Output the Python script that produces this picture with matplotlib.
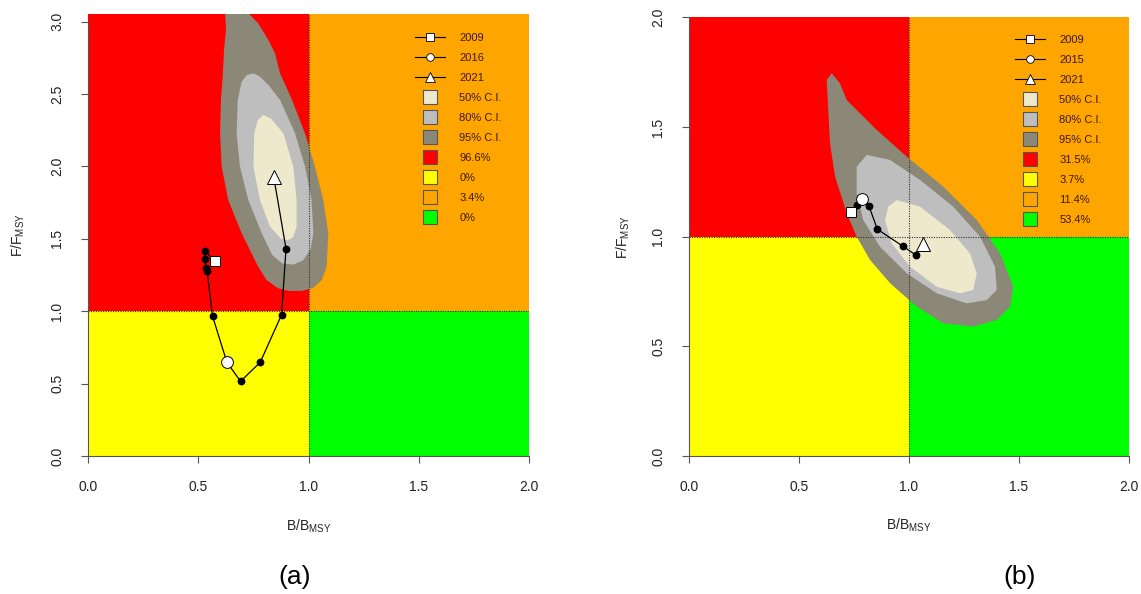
import matplotlib
matplotlib.use('Agg')
import matplotlib.pyplot as plt
from matplotlib.lines import Line2D

plt.rcParams['font.family'] = ['Liberation Sans', 'DejaVu Sans']
plt.rcParams['mathtext.fontset'] = 'custom'
plt.rcParams['mathtext.rm'] = 'Liberation Sans'
plt.rcParams['mathtext.it'] = 'Liberation Sans:italic'

# quadrant colours (red, yellow, orange, green) and CI colours
col_red, col_yellow, col_orange, col_green = '#FF0000', '#FFFF00', '#FFA500', '#00FF00'
col50, col80, col95 = '#EEE8CD', '#BEBEBE', '#8B8878'

# ---- panel (a) ----
bb_a = [0.575, 0.53, 0.53, 0.535, 0.54, 0.565, 0.63, 0.692, 0.781, 0.878, 0.898, 0.842]
ff_a = [1.345, 1.418, 1.358, 1.296, 1.28, 0.965, 0.647, 0.516, 0.647, 0.976, 1.432, 1.93]
years_a = ['2009', '2016', '2021']
mid_a = 6
pct_a = ['96.6%', '0%', '3.4%', '0%']

ci95_a_x = [0.63, 0.72, 0.735, 0.772, 0.818, 0.848, 0.871, 0.925, 0.984, 1.029, 1.067, 1.09,
            1.082, 1.06, 1.02, 0.97, 0.91, 0.86, 0.81, 0.772, 0.697, 0.636, 0.606, 0.599,
            0.603, 0.611, 0.617, 0.626, 0.62]
ci95_a_y = [3.12, 3.12, 3.046, 2.988, 2.873, 2.781, 2.643, 2.46, 2.229, 2.0, 1.768, 1.538,
            1.307, 1.215, 1.16, 1.14, 1.14, 1.16, 1.215, 1.307, 1.538, 1.768, 2.0, 2.229,
            2.459, 2.62, 2.804, 2.942, 3.12]
ci80_a_x = [0.75, 0.78, 0.82, 0.871, 0.939, 0.984, 1.014, 1.022, 1.01, 0.975, 0.93, 0.88,
            0.835, 0.788, 0.727, 0.689, 0.674, 0.679, 0.697, 0.72]
ci80_a_y = [2.643, 2.62, 2.56, 2.459, 2.229, 2.0, 1.768, 1.538, 1.43, 1.35, 1.322, 1.33,
            1.39, 1.538, 1.768, 2.0, 2.229, 2.459, 2.585, 2.631]
ci50_a_x = [0.795, 0.83, 0.886, 0.931, 0.946, 0.946, 0.93, 0.905, 0.875, 0.825, 0.78, 0.75,
            0.754, 0.77]
ci50_a_y = [2.355, 2.33, 2.229, 2.0, 1.768, 1.584, 1.51, 1.49, 1.50, 1.584, 1.768, 2.0,
            2.229, 2.32]

# ---- panel (b) ----
bb_b = [0.736, 0.765, 0.788, 0.818, 0.856, 0.973, 1.033, 1.065]
ff_b = [1.113, 1.143, 1.173, 1.14, 1.034, 0.956, 0.915, 0.967]
years_b = ['2009', '2015', '2021']
mid_b = 2
pct_b = ['31.5%', '3.7%', '11.4%', '53.4%']

ci95_b_x = [0.649, 0.686, 0.717, 0.777, 0.853, 0.99, 1.156, 1.308, 1.414, 1.474, 1.459,
            1.399, 1.292, 1.156, 1.035, 0.914, 0.823, 0.762, 0.717, 0.664, 0.641, 0.633,
            0.626]
ci95_b_y = [1.745, 1.699, 1.623, 1.563, 1.487, 1.365, 1.228, 1.076, 0.924, 0.772, 0.681,
            0.62, 0.59, 0.605, 0.681, 0.788, 0.894, 1.0, 1.107, 1.274, 1.426, 1.578,
            1.715]
ci80_b_x = [0.808, 0.914, 1.05, 1.201, 1.323, 1.391, 1.399, 1.353, 1.262, 1.126, 0.99,
            0.868, 0.792, 0.762, 0.762]
ci80_b_y = [1.373, 1.35, 1.259, 1.137, 1.0, 0.863, 0.757, 0.711, 0.696, 0.742, 0.833,
            0.954, 1.076, 1.198, 1.319]
ci50_b_x = [0.944, 1.05, 1.186, 1.277, 1.308, 1.292, 1.232, 1.126, 1.005, 0.921, 0.891,
            0.906]
ci50_b_y = [1.167, 1.137, 1.031, 0.924, 0.833, 0.757, 0.742, 0.772, 0.863, 0.97, 1.076,
            1.137]


def kobe(ax, ytop, ymax_tick, cis, bb, ff, mid, years, pct, leg_anchor, ylab_x):
    # quadrants
    ax.fill_between([0, 1], 1, ytop, color=col_red, lw=0, zorder=0)
    ax.fill_between([0, 1], 0, 1, color=col_yellow, lw=0, zorder=0)
    ax.fill_between([1, 2], 1, ytop, color=col_orange, lw=0, zorder=0)
    ax.fill_between([1, 2], 0, 1, color=col_green, lw=0, zorder=0)
    # confidence regions
    for (cx, cy), c in zip(cis, [col95, col80, col50]):
        ax.fill(cx, cy, color=c, lw=0, zorder=1)
    ax.axvline(1, color='#333333', lw=0.8, ls=(0, (1, 1.2)), zorder=2)
    ax.axhline(1, color='#333333', lw=0.8, ls=(0, (1, 1.2)), zorder=2)
    # trajectory
    ax.plot(bb, ff, color='black', lw=0.9, zorder=3)
    others = [i for i in range(len(bb)) if i not in (0, mid, len(bb) - 1)]
    ax.plot([bb[i] for i in others], [ff[i] for i in others], 'o', ms=4.6,
            color='black', zorder=4)
    ax.plot(bb[0], ff[0], 's', ms=7.5, mfc='white', mec='black', mew=0.7, zorder=5)
    ax.plot(bb[mid], ff[mid], 'o', ms=8.5, mfc='white', mec='black', mew=0.7, zorder=5)
    ax.plot(bb[-1], ff[-1], '^', ms=10, mfc='white', mec='black', mew=0.7, zorder=5)

    ax.set_xlim(0, 2)
    ax.set_ylim(0, ytop)
    ax.set_xticks([0, 0.5, 1, 1.5, 2])
    ax.set_xticklabels(['0.0', '0.5', '1.0', '1.5', '2.0'])
    yt = [v * 0.5 for v in range(int(ymax_tick * 2) + 1)]
    ax.set_yticks(yt)
    ax.set_yticklabels(['%.1f' % v for v in yt])
    for s in ['top', 'right']:
        ax.spines[s].set_visible(False)
    ax.spines['left'].set_bounds(0, ymax_tick)
    ax.spines['bottom'].set_bounds(0, 2)
    for s in ['left', 'bottom']:
        ax.spines[s].set_color('#555555')
        ax.spines[s].set_linewidth(0.8)
    ax.tick_params(direction='out', length=5, width=0.8, color='#555555',
                   labelsize=10, labelcolor='#222222', pad=12)
    ax.tick_params(axis='y', labelrotation=90)
    for lab in ax.get_yticklabels():
        lab.set_va('center')
    ax.set_xlabel('B/B$_{\\mathrm{MSY}}$', fontsize=10, color='#222222')
    ax.xaxis.set_label_coords(0.5, -0.139)
    ax.set_ylabel('F/F$_{\\mathrm{MSY}}$', fontsize=10, color='#222222')
    ax.yaxis.set_label_coords(ylab_x, 0.5)

    handles = [
        Line2D([], [], color='black', lw=0.8, marker='s', ms=5.5, mfc='white', mec='black', mew=0.6),
        Line2D([], [], color='black', lw=0.8, marker='o', ms=5.5, mfc='white', mec='black', mew=0.6),
        Line2D([], [], color='black', lw=0.8, marker='^', ms=7, mfc='white', mec='black', mew=0.6),
    ]
    for c in [col50, col80, col95, col_red, col_yellow, col_orange, col_green]:
        handles.append(Line2D([], [], ls='none', marker='s', ms=9.5, mfc=c,
                              mec='#555555', mew=0.8))
    labels = years + ['50% C.I.', '80% C.I.', '95% C.I.'] + pct
    ax.legend(handles, labels, loc='upper left', bbox_to_anchor=leg_anchor,
              frameon=False, fontsize=8, handlelength=2.7, handletextpad=1.3,
              labelspacing=0.90, borderaxespad=0, borderpad=0, labelcolor='#3d1a00')


fig = plt.figure(figsize=(11.41, 5.94), dpi=100)
ax_a = fig.add_axes([88 / 1141, 138 / 594, 441 / 1141, 441.6 / 594])
ax_b = fig.add_axes([689 / 1141, 138 / 594, 440 / 1141, 438.6 / 594])

kobe(ax_a, 3.05, 3.0,
     [(ci95_a_x, ci95_a_y), (ci80_a_x, ci80_a_y), (ci50_a_x, ci50_a_y)],
     bb_a, ff_a, mid_a, years_a, pct_a, (0.741, 0.959), -0.138)
kobe(ax_b, 2.0, 2.0,
     [(ci95_b_x, ci95_b_y), (ci80_b_x, ci80_b_y), (ci50_b_x, ci50_b_y)],
     bb_b, ff_b, mid_b, years_b, pct_b, (0.741, 0.961), -0.129)

fig.text(295 / 1141, 1 - 577 / 594, '(a)', ha='center', va='center', fontsize=19)
fig.text(1020 / 1141, 1 - 577 / 594, '(b)', ha='center', va='center', fontsize=19)

fig.savefig('out.png', dpi=100)
